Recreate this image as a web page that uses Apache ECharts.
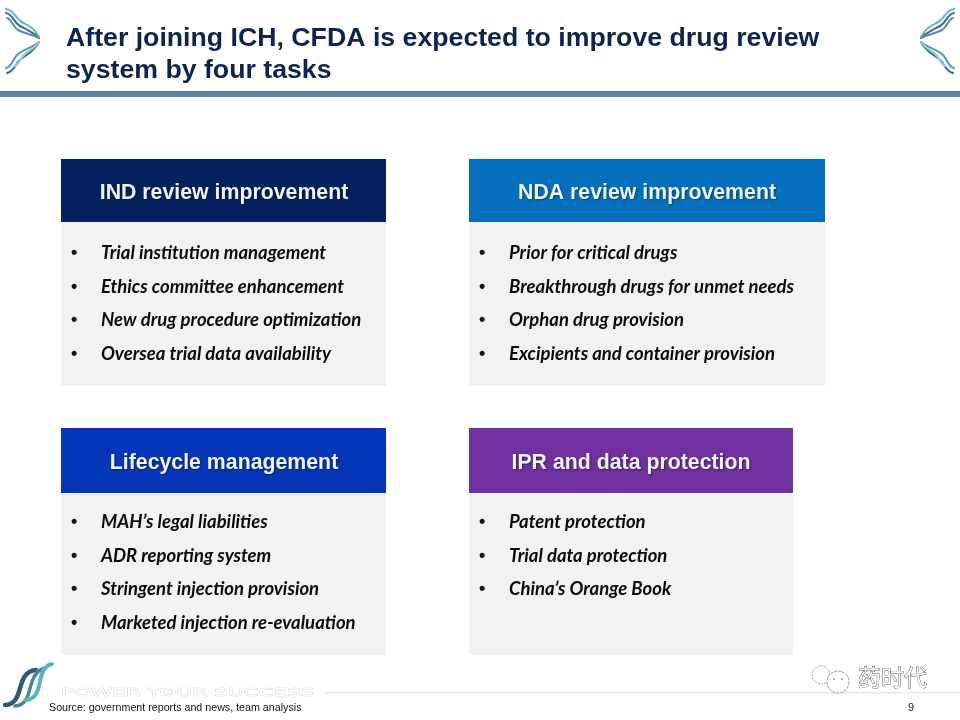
<!DOCTYPE html>
<html><head><meta charset="utf-8">
<style>html,body{margin:0;padding:0;background:#fff}#c{width:960px;height:720px}</style>
<script src="https://cdn.jsdelivr.net/npm/echarts@6/dist/echarts.min.js"></script>
</head><body><div id="c"></div>
<script>
const titleLines = ["After joining ICH, CFDA is expected to improve drug review", "system by four tasks"];
const headers = ["IND review improvement", "NDA review improvement", "Lifecycle management", "IPR and data protection"];
const itemsInd = ["Trial institution management", "Ethics committee enhancement", "New drug procedure optimization", "Oversea trial data availability"];
const itemsNda = ["Prior for critical drugs", "Breakthrough drugs for unmet needs", "Orphan drug provision", "Excipients and container provision"];
const itemsLife = ["MAH\u2019s legal liabilities", "ADR reporting system", "Stringent injection provision", "Marketed injection re-evaluation"];
const itemsIpr = ["Patent protection", "Trial data protection", "China\u2019s Orange Book"];
const sourceText = "Source: government reports and news, team analysis";
const slogan = "POWER YOUR SUCCESS";
const brand = "\u836f\u65f6\u4ee3";
const pageNo = "9";

const itemLists = [itemsInd, itemsNda, itemsLife, itemsIpr];
const boxes = [
  {x:61, y:159, w:325, head:63, h:227, color:'#04205f'},
  {x:469,y:159, w:356, head:63, h:227, color:'#0470bd'},
  {x:61, y:428, w:325, head:65, h:227, color:'#0636b8'},
  {x:469,y:428, w:324, head:65, h:227, color:'#7030a0'}
];
const SANS = 'Liberation Sans, Arial, sans-serif';
const BODY = 'Lato, sans-serif';
const g = [];
const text = (x,y,t,o,extra)=>g.push(Object.assign({type:'text',x,y,silent:true,style:Object.assign({text:t,fontFamily:SANS,verticalAlign:'middle',fill:'#000'},o)},extra||{}));

text(66,38.5,titleLines[0],{fontSize:26.7,fontWeight:'bold',fill:'#0d2350'});
text(66,70.5,titleLines[1],{fontSize:26.7,fontWeight:'bold',fill:'#0d2350'});
g.push({type:'rect',shape:{x:0,y:91,width:960,height:6},style:{fill:'#5d83a6'},silent:true});

boxes.forEach((b,i)=>{
  g.push({type:'rect',shape:{x:b.x,y:b.y,width:b.w,height:b.h},style:{fill:'#f2f2f5'},silent:true});
  g.push({type:'rect',shape:{x:b.x,y:b.y,width:b.w,height:b.head},style:{fill:b.color},silent:true});
  const cx = i===1 ? b.x+178 : (i===3 ? b.x+162 : b.x+163);
  text(cx,b.y+b.head/2+3,headers[i],{fontSize:21.3,fontWeight:'bold',fill:'#eef4fa',align:'center',
    textShadowColor:'rgba(0,0,0,0.45)',textShadowBlur:2,textShadowOffsetX:1,textShadowOffsetY:1});
  itemLists[i].forEach((t,k)=>{
    const y = b.y + 94 + k*33.6;
    text(b.x+10,y,'\u2022',{fontSize:18,fontWeight:'bold',fill:'#111'});
    text(b.x+40,y,t,{fontSize:18.5,fontWeight:'bold',fontStyle:'italic',fill:'#0b0b0b',fontFamily:BODY});
  });
});

// decorative swirl strokes, each a single cubic curve
const swirl=(s,color,w,tr)=>g.push(Object.assign({type:'bezierCurve',silent:true,
  shape:{x1:s[0],y1:s[1],cpx1:s[2],cpy1:s[3],cpx2:s[4],cpy2:s[5],x2:s[6],y2:s[7]},
  style:{fill:'none',stroke:color,lineWidth:w,lineCap:'round'}},tr||{}));
const corner=[
  [[6,9,14,10,15,18,22,22],'#6fb6c2'],[[22,22,29,26,35,28,39,38],'#6fb6c2'],
  [[6,13,13,14,13,22,20,26],'#3f6f85'],[[20,26,27,30,33,32,39,38],'#3f6f85'],
  [[7,18,12,19,12,26,18,30],'#5d8fa0'],[[18,30,25,34,32,34,39,38],'#5d8fa0'],
  [[7,73,14,72,15,64,20,60],'#3f6f85'],[[20,60,25,55,34,52,39,42],'#3f6f85'],
  [[6,68,12,67,13,58,18,54],'#4f9dae'],[[18,54,24,49,32,48,39,42],'#4f9dae'],
  [[14,66,20,65,20,57,26,53],'#8fd0d6'],[[26,53,31,49,35,48,39,42],'#8fd0d6']
];
corner.forEach(p=>swirl(p[0],p[1],2.1));
corner.forEach(p=>swirl(p[0],p[1],2.1,{scaleX:-1,x:960}));
[
  [[5,705,26,704,14,672,36,670],'#2f5a70',4.5],
  [[15,706,36,704,24,674,45,668],'#4d8499',3.5],
  [[26,700,46,698,34,668,52,664],'#58b4c4',4]
].forEach(p=>swirl(p[0],p[1],p[2]));

text(61,693,slogan,{fontSize:10.5,fill:'#ffffff',stroke:'#cfcfcf',lineWidth:0.6,fontFamily:'DejaVu Sans'},{scaleX:2.05});
g.push({type:'rect',shape:{x:325,y:692,width:635,height:1.5},style:{fill:'#e8e8e8'},silent:true});
text(49,708,sourceText,{fontSize:10.7,fill:'#111'});
text(908,708,pageNo,{fontSize:11,fill:'#222'});

g.push({type:'circle',silent:true,shape:{cx:821,cy:675,r:9},style:{fill:'#fff',stroke:'#aaa',lineWidth:1,lineDash:[2,1]}});
g.push({type:'circle',silent:true,shape:{cx:838,cy:682,r:11},style:{fill:'#fff',stroke:'#999',lineWidth:1,lineDash:[3,1]}});
g.push({type:'circle',silent:true,shape:{cx:834,cy:679,r:0.9},style:{fill:'#888'}});
g.push({type:'circle',silent:true,shape:{cx:842,cy:679,r:0.9},style:{fill:'#888'}});
text(858,677,brand,{fontSize:23,fill:'#fff',stroke:'#444',lineWidth:0.8,fontFamily:'Noto Sans CJK SC'});

const chart = echarts.init(document.getElementById('c'),null,{renderer:'canvas'});
chart.setOption({animation:false,backgroundColor:'#fff',graphic:{elements:g}});
</script></body></html>
